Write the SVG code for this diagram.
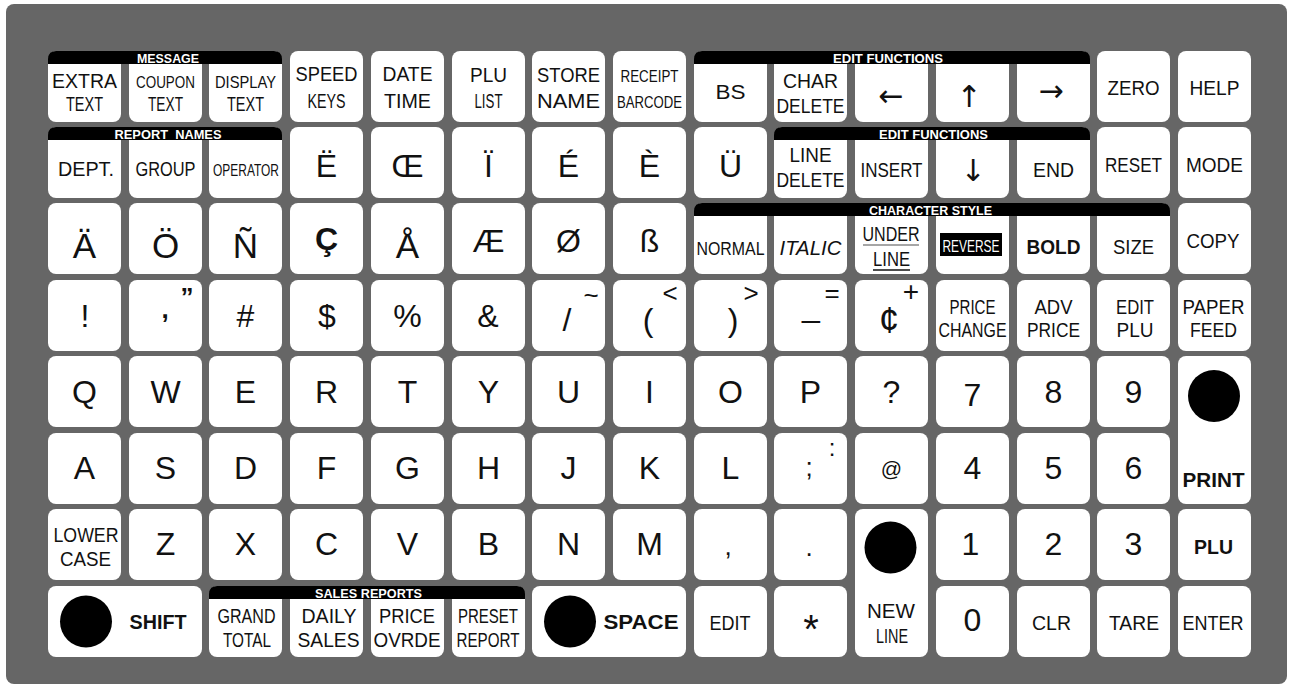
<svg xmlns="http://www.w3.org/2000/svg" width="1289" height="687" viewBox="0 0 1289 687">
<style>
.k{fill:#fff}
.l{font-family:"Liberation Sans",Arial,sans-serif;font-size:20px;fill:#111;text-anchor:middle}
.g{font-family:"Liberation Sans",Arial,sans-serif;font-size:32px;fill:#111;text-anchor:middle}
.ar{font-family:"DejaVu Sans",sans-serif;font-size:30px;fill:#111;text-anchor:middle}
.bd{font-weight:bold}
.bar{fill:#000}
.bt{font-family:"Liberation Sans",Arial,sans-serif;font-size:13px;font-weight:bold;fill:#fff;text-anchor:middle}
.dot{fill:#000}
</style>
<rect x="6" y="4" width="1281" height="680" rx="8" fill="#666"/>

<!-- Row 0 -->
<g id="k-extra-text"><rect class="k" x="48" y="51" width="73" height="71" rx="8"/><text class="l" x="84.5" y="88" textLength="65" lengthAdjust="spacingAndGlyphs">EXTRA</text><text class="l" x="84.5" y="111" textLength="37" lengthAdjust="spacingAndGlyphs">TEXT</text></g>
<g id="k-coupon-text"><rect class="k" x="129" y="51" width="73" height="71" rx="8"/><text class="l" x="165.5" y="88" textLength="59" lengthAdjust="spacingAndGlyphs" style="font-size:17px">COUPON</text><text class="l" x="165.5" y="111" textLength="35" lengthAdjust="spacingAndGlyphs">TEXT</text></g>
<g id="k-display-text"><rect class="k" x="209" y="51" width="73" height="71" rx="8"/><text class="l" x="245.5" y="88" textLength="61" lengthAdjust="spacingAndGlyphs" style="font-size:17px">DISPLAY</text><text class="l" x="245.5" y="111" textLength="37" lengthAdjust="spacingAndGlyphs">TEXT</text></g>
<g id="k-speed-keys"><rect class="k" x="290" y="51" width="73" height="71" rx="8"/><text class="l" x="326.5" y="81" textLength="62" lengthAdjust="spacingAndGlyphs">SPEED</text><text class="l" x="326.5" y="108" textLength="38" lengthAdjust="spacingAndGlyphs">KEYS</text></g>
<g id="k-date-time"><rect class="k" x="371" y="51" width="73" height="71" rx="8"/><text class="l" x="407.5" y="81" textLength="50" lengthAdjust="spacingAndGlyphs">DATE</text><text class="l" x="407.5" y="108" textLength="47" lengthAdjust="spacingAndGlyphs">TIME</text></g>
<g id="k-plu-list"><rect class="k" x="452" y="51" width="73" height="71" rx="8"/><text class="l" x="488.5" y="82" textLength="37" lengthAdjust="spacingAndGlyphs">PLU</text><text class="l" x="488.5" y="108" textLength="28" lengthAdjust="spacingAndGlyphs">LIST</text></g>
<g id="k-store-name"><rect class="k" x="532" y="51" width="73" height="71" rx="8"/><text class="l" x="568.5" y="82" textLength="63" lengthAdjust="spacingAndGlyphs">STORE</text><text class="l" x="568.5" y="108" textLength="63" lengthAdjust="spacingAndGlyphs">NAME</text></g>
<g id="k-receipt-barcode"><rect class="k" x="613" y="51" width="73" height="71" rx="8"/><text class="l" x="649.5" y="82" textLength="58" lengthAdjust="spacingAndGlyphs" style="font-size:17px">RECEIPT</text><text class="l" x="649.5" y="108" textLength="65" lengthAdjust="spacingAndGlyphs" style="font-size:17px">BARCODE</text></g>
<g id="k-bs"><rect class="k" x="694" y="51" width="73" height="71" rx="8"/><text class="l" x="730.5" y="99" textLength="30" lengthAdjust="spacingAndGlyphs">BS</text></g>
<g id="k-char-delete"><rect class="k" x="774" y="51" width="73" height="71" rx="8"/><text class="l" x="810.5" y="88" textLength="55" lengthAdjust="spacingAndGlyphs">CHAR</text><text class="l" x="810.5" y="113" textLength="68" lengthAdjust="spacingAndGlyphs">DELETE</text></g>
<g id="k-left"><rect class="k" x="855" y="51" width="73" height="71" rx="8"/><text class="ar" x="891" y="106">←</text></g>
<g id="k-up"><rect class="k" x="936" y="51" width="73" height="71" rx="8"/><text class="ar" x="969" y="107">↑</text></g>
<g id="k-right"><rect class="k" x="1017" y="51" width="73" height="71" rx="8"/><text class="ar" x="1051" y="101">→</text></g>
<g id="k-zero"><rect class="k" x="1097" y="51" width="73" height="71" rx="8"/><text class="l" x="1133.5" y="95" textLength="52" lengthAdjust="spacingAndGlyphs">ZERO</text></g>
<g id="k-help"><rect class="k" x="1178" y="51" width="73" height="71" rx="8"/><text class="l" x="1214.5" y="95" textLength="50" lengthAdjust="spacingAndGlyphs">HELP</text></g>

<!-- Row 1 -->
<g id="k-dept"><rect class="k" x="48" y="127" width="73" height="71" rx="8"/><text class="l" x="86" y="176" textLength="56" lengthAdjust="spacingAndGlyphs">DEPT.</text></g>
<g id="k-group"><rect class="k" x="129" y="127" width="73" height="71" rx="8"/><text class="l" x="165.5" y="176" textLength="60" lengthAdjust="spacingAndGlyphs">GROUP</text></g>
<g id="k-operator"><rect class="k" x="209" y="127" width="73" height="71" rx="8"/><text class="l" x="246" y="176" textLength="66" lengthAdjust="spacingAndGlyphs" style="font-size:17px">OPERATOR</text></g>
<g id="k-e-uml"><rect class="k" x="290" y="127" width="73" height="71" rx="8"/><text class="g" x="326.5" y="177">Ë</text></g>
<g id="k-oe"><rect class="k" x="371" y="127" width="73" height="71" rx="8"/><text class="g" x="407.5" y="177">Œ</text></g>
<g id="k-i-uml"><rect class="k" x="452" y="127" width="73" height="71" rx="8"/><text class="g" x="488.5" y="177">Ï</text></g>
<g id="k-e-acute"><rect class="k" x="532" y="127" width="73" height="71" rx="8"/><text class="g" x="568.5" y="177">É</text></g>
<g id="k-e-grave"><rect class="k" x="613" y="127" width="73" height="71" rx="8"/><text class="g" x="649.5" y="177">È</text></g>
<g id="k-u-uml"><rect class="k" x="694" y="127" width="73" height="71" rx="8"/><text class="g" x="730.5" y="177">Ü</text></g>
<g id="k-line-delete"><rect class="k" x="774" y="127" width="73" height="71" rx="8"/><text class="l" x="810.5" y="162" textLength="42" lengthAdjust="spacingAndGlyphs">LINE</text><text class="l" x="810.5" y="187" textLength="68" lengthAdjust="spacingAndGlyphs">DELETE</text></g>
<g id="k-insert"><rect class="k" x="855" y="127" width="73" height="71" rx="8"/><text class="l" x="891.5" y="177" textLength="62" lengthAdjust="spacingAndGlyphs">INSERT</text></g>
<g id="k-down"><rect class="k" x="936" y="127" width="73" height="71" rx="8"/><text class="ar" x="973" y="181">↓</text></g>
<g id="k-end"><rect class="k" x="1017" y="127" width="73" height="71" rx="8"/><text class="l" x="1053.5" y="177" textLength="41" lengthAdjust="spacingAndGlyphs">END</text></g>
<g id="k-reset"><rect class="k" x="1097" y="127" width="73" height="71" rx="8"/><text class="l" x="1133.5" y="172" textLength="57" lengthAdjust="spacingAndGlyphs">RESET</text></g>
<g id="k-mode"><rect class="k" x="1178" y="127" width="73" height="71" rx="8"/><text class="l" x="1214.5" y="172" textLength="57" lengthAdjust="spacingAndGlyphs">MODE</text></g>

<!-- Row 2 -->
<g id="k-a-uml"><rect class="k" x="48" y="203" width="73" height="71" rx="8"/><text class="g" x="84.5" y="258" style="font-size:35px">Ä</text></g>
<g id="k-o-uml"><rect class="k" x="129" y="203" width="73" height="71" rx="8"/><text class="g" x="165.5" y="258" style="font-size:35px">Ö</text></g>
<g id="k-n-tilde"><rect class="k" x="209" y="203" width="73" height="71" rx="8"/><text class="g" x="245.5" y="258" style="font-size:35px">Ñ</text></g>
<g id="k-c-cedil"><rect class="k" x="290" y="203" width="73" height="71" rx="8"/><text class="g bd" x="326.5" y="250">Ç</text></g>
<g id="k-a-ring"><rect class="k" x="371" y="203" width="73" height="71" rx="8"/><text class="g" x="407.5" y="258" style="font-size:35px">Å</text></g>
<g id="k-ae"><rect class="k" x="452" y="203" width="73" height="71" rx="8"/><text class="g" x="488.5" y="252">Æ</text></g>
<g id="k-o-slash"><rect class="k" x="532" y="203" width="73" height="71" rx="8"/><text class="g" x="568.5" y="252">Ø</text></g>
<g id="k-eszett"><rect class="k" x="613" y="203" width="73" height="71" rx="8"/><text class="g" x="649.5" y="252">ß</text></g>
<g id="k-normal"><rect class="k" x="694" y="203" width="73" height="71" rx="8"/><text class="l" x="730.5" y="255" textLength="68" lengthAdjust="spacingAndGlyphs" style="font-size:18px">NORMAL</text></g>
<g id="k-italic"><rect class="k" x="774" y="203" width="73" height="71" rx="8"/><text class="l" x="810.5" y="255" textLength="62" lengthAdjust="spacingAndGlyphs" font-style="italic">ITALIC</text></g>
<g id="k-underline"><rect class="k" x="855" y="203" width="73" height="71" rx="8"/><text class="l" x="891" y="241" textLength="57" lengthAdjust="spacingAndGlyphs">UNDER</text><line x1="863" y1="245" x2="919" y2="245" stroke="#888" stroke-width="1.5"/><text class="l" x="891.5" y="266" textLength="37" lengthAdjust="spacingAndGlyphs">LINE</text><line x1="873" y1="270" x2="910" y2="270" stroke="#111" stroke-width="1.5"/></g>
<g id="k-reverse"><rect class="k" x="936" y="203" width="73" height="71" rx="8"/><rect x="940" y="233" width="62" height="23" fill="#000"/><text class="l" x="971" y="252" textLength="57" lengthAdjust="spacingAndGlyphs" style="font-size:17px;fill:#fff">REVERSE</text></g>
<g id="k-bold"><rect class="k" x="1017" y="203" width="73" height="71" rx="8"/><text class="l bd" x="1053.5" y="254" textLength="54" lengthAdjust="spacingAndGlyphs">BOLD</text></g>
<g id="k-size"><rect class="k" x="1097" y="203" width="73" height="71" rx="8"/><text class="l" x="1133.5" y="254" textLength="41" lengthAdjust="spacingAndGlyphs">SIZE</text></g>
<g id="k-copy"><rect class="k" x="1178" y="203" width="73" height="71" rx="8"/><text class="l" x="1213" y="248" textLength="53" lengthAdjust="spacingAndGlyphs">COPY</text></g>

<!-- Row 3 -->
<g id="k-excl"><rect class="k" x="48" y="280" width="73" height="71" rx="8"/><text class="g" x="85" y="327">!</text></g>
<g id="k-comma-quote"><rect class="k" x="129" y="280" width="73" height="71" rx="8"/><text class="g bd" x="165" y="318" style="font-size:26px">,</text><text class="g bd" x="187" y="306" style="font-size:26px">”</text></g>
<g id="k-hash"><rect class="k" x="209" y="280" width="73" height="71" rx="8"/><text class="g" x="245.5" y="327">#</text></g>
<g id="k-dollar"><rect class="k" x="290" y="280" width="73" height="71" rx="8"/><text class="g" x="327" y="327">$</text></g>
<g id="k-percent"><rect class="k" x="371" y="280" width="73" height="71" rx="8"/><text class="g" x="407.5" y="327">%</text></g>
<g id="k-amp"><rect class="k" x="452" y="280" width="73" height="71" rx="8"/><text class="g" x="488" y="327">&amp;</text></g>
<g id="k-slash-tilde"><rect class="k" x="532" y="280" width="73" height="71" rx="8"/><text class="g" x="567" y="331">/</text><text class="g" x="591" y="304" style="font-size:26px">~</text></g>
<g id="k-paren-lt"><rect class="k" x="613" y="280" width="73" height="71" rx="8"/><text class="g" x="648" y="331">(</text><text class="g" x="670" y="302" style="font-size:26px">&lt;</text></g>
<g id="k-paren-gt"><rect class="k" x="694" y="280" width="73" height="71" rx="8"/><text class="g" x="733" y="331">)</text><text class="g" x="751" y="302" style="font-size:26px">&gt;</text></g>
<g id="k-under-eq"><rect class="k" x="774" y="280" width="73" height="71" rx="8"/><text class="g" x="811" y="317">_</text><text class="g" x="832" y="302" style="font-size:26px">=</text></g>
<g id="k-cent-plus"><rect class="k" x="855" y="280" width="73" height="71" rx="8"/><text class="g" x="889" y="333" style="font-size:36px">¢</text><text class="g" x="911" y="301" style="font-size:28px">+</text></g>
<g id="k-price-change"><rect class="k" x="936" y="280" width="73" height="71" rx="8"/><text class="l" x="972.5" y="314" textLength="46" lengthAdjust="spacingAndGlyphs">PRICE</text><text class="l" x="972.5" y="337" textLength="68" lengthAdjust="spacingAndGlyphs">CHANGE</text></g>
<g id="k-adv-price"><rect class="k" x="1017" y="280" width="73" height="71" rx="8"/><text class="l" x="1053.5" y="314" textLength="38" lengthAdjust="spacingAndGlyphs">ADV</text><text class="l" x="1053.5" y="337" textLength="53" lengthAdjust="spacingAndGlyphs">PRICE</text></g>
<g id="k-edit-plu"><rect class="k" x="1097" y="280" width="73" height="71" rx="8"/><text class="l" x="1135" y="314" textLength="38" lengthAdjust="spacingAndGlyphs">EDIT</text><text class="l" x="1135" y="337" textLength="37" lengthAdjust="spacingAndGlyphs">PLU</text></g>
<g id="k-paper-feed"><rect class="k" x="1178" y="280" width="73" height="71" rx="8"/><text class="l" x="1213.5" y="314" textLength="62" lengthAdjust="spacingAndGlyphs">PAPER</text><text class="l" x="1213.5" y="337" textLength="47" lengthAdjust="spacingAndGlyphs">FEED</text></g>

<!-- Row 4 -->
<g id="k-q"><rect class="k" x="48" y="356" width="73" height="71" rx="8"/><text class="g" x="84.5" y="403">Q</text></g>
<g id="k-w"><rect class="k" x="129" y="356" width="73" height="71" rx="8"/><text class="g" x="165.5" y="403">W</text></g>
<g id="k-e"><rect class="k" x="209" y="356" width="73" height="71" rx="8"/><text class="g" x="245.5" y="403">E</text></g>
<g id="k-r"><rect class="k" x="290" y="356" width="73" height="71" rx="8"/><text class="g" x="326.5" y="403">R</text></g>
<g id="k-t"><rect class="k" x="371" y="356" width="73" height="71" rx="8"/><text class="g" x="407.5" y="403">T</text></g>
<g id="k-y"><rect class="k" x="452" y="356" width="73" height="71" rx="8"/><text class="g" x="488.5" y="403">Y</text></g>
<g id="k-u"><rect class="k" x="532" y="356" width="73" height="71" rx="8"/><text class="g" x="568.5" y="403">U</text></g>
<g id="k-i"><rect class="k" x="613" y="356" width="73" height="71" rx="8"/><text class="g" x="649.5" y="403">I</text></g>
<g id="k-o"><rect class="k" x="694" y="356" width="73" height="71" rx="8"/><text class="g" x="730.5" y="403">O</text></g>
<g id="k-p"><rect class="k" x="774" y="356" width="73" height="71" rx="8"/><text class="g" x="810.5" y="403">P</text></g>
<g id="k-question"><rect class="k" x="855" y="356" width="73" height="71" rx="8"/><text class="g" x="891.5" y="403">?</text></g>
<g id="k-7"><rect class="k" x="936" y="356" width="73" height="71" rx="8"/><text class="g" x="972.5" y="406">7</text></g>
<g id="k-8"><rect class="k" x="1017" y="356" width="73" height="71" rx="8"/><text class="g" x="1053.5" y="403">8</text></g>
<g id="k-9"><rect class="k" x="1097" y="356" width="73" height="71" rx="8"/><text class="g" x="1133.5" y="403">9</text></g>
<g id="k-print"><rect class="k" x="1178" y="356" width="73" height="148" rx="8"/><circle class="dot" cx="1214" cy="396" r="26"/><text class="l bd" x="1213.5" y="487" textLength="62" lengthAdjust="spacingAndGlyphs">PRINT</text></g>

<!-- Row 5 -->
<g id="k-a"><rect class="k" x="48" y="433" width="73" height="71" rx="8"/><text class="g" x="84.5" y="479">A</text></g>
<g id="k-s"><rect class="k" x="129" y="433" width="73" height="71" rx="8"/><text class="g" x="165.5" y="479">S</text></g>
<g id="k-d"><rect class="k" x="209" y="433" width="73" height="71" rx="8"/><text class="g" x="245.5" y="479">D</text></g>
<g id="k-f"><rect class="k" x="290" y="433" width="73" height="71" rx="8"/><text class="g" x="326.5" y="479">F</text></g>
<g id="k-g"><rect class="k" x="371" y="433" width="73" height="71" rx="8"/><text class="g" x="407.5" y="479">G</text></g>
<g id="k-h"><rect class="k" x="452" y="433" width="73" height="71" rx="8"/><text class="g" x="488.5" y="479">H</text></g>
<g id="k-j"><rect class="k" x="532" y="433" width="73" height="71" rx="8"/><text class="g" x="568.5" y="479">J</text></g>
<g id="k-k"><rect class="k" x="613" y="433" width="73" height="71" rx="8"/><text class="g" x="649.5" y="479">K</text></g>
<g id="k-l"><rect class="k" x="694" y="433" width="73" height="71" rx="8"/><text class="g" x="730.5" y="479">L</text></g>
<g id="k-semi-colon"><rect class="k" x="774" y="433" width="73" height="71" rx="8"/><text class="g" x="809" y="476" style="font-size:26px">;</text><text class="g" x="832" y="456" style="font-size:24px">:</text></g>
<g id="k-at"><rect class="k" x="855" y="433" width="73" height="71" rx="8"/><text class="g" x="891.5" y="476" style="font-size:21px">@</text></g>
<g id="k-4"><rect class="k" x="936" y="433" width="73" height="71" rx="8"/><text class="g" x="972.5" y="479">4</text></g>
<g id="k-5"><rect class="k" x="1017" y="433" width="73" height="71" rx="8"/><text class="g" x="1053.5" y="479">5</text></g>
<g id="k-6"><rect class="k" x="1097" y="433" width="73" height="71" rx="8"/><text class="g" x="1133.5" y="479">6</text></g>

<!-- Row 6 -->
<g id="k-lower-case"><rect class="k" x="48" y="509" width="73" height="71" rx="8"/><text class="l" x="86" y="542" textLength="65" lengthAdjust="spacingAndGlyphs">LOWER</text><text class="l" x="85.5" y="566" textLength="51" lengthAdjust="spacingAndGlyphs">CASE</text></g>
<g id="k-z"><rect class="k" x="129" y="509" width="73" height="71" rx="8"/><text class="g" x="165.5" y="555">Z</text></g>
<g id="k-x"><rect class="k" x="209" y="509" width="73" height="71" rx="8"/><text class="g" x="245.5" y="555">X</text></g>
<g id="k-c"><rect class="k" x="290" y="509" width="73" height="71" rx="8"/><text class="g" x="326.5" y="555">C</text></g>
<g id="k-v"><rect class="k" x="371" y="509" width="73" height="71" rx="8"/><text class="g" x="407.5" y="555">V</text></g>
<g id="k-b"><rect class="k" x="452" y="509" width="73" height="71" rx="8"/><text class="g" x="488.5" y="555">B</text></g>
<g id="k-n"><rect class="k" x="532" y="509" width="73" height="71" rx="8"/><text class="g" x="568.5" y="555">N</text></g>
<g id="k-m"><rect class="k" x="613" y="509" width="73" height="71" rx="8"/><text class="g" x="649.5" y="555">M</text></g>
<g id="k-comma"><rect class="k" x="694" y="509" width="73" height="71" rx="8"/><text class="g" x="728" y="555" style="font-size:26px">,</text></g>
<g id="k-period"><rect class="k" x="774" y="509" width="73" height="71" rx="8"/><text class="g" x="809" y="556" style="font-size:26px">.</text></g>
<g id="k-new-line"><rect class="k" x="855" y="509" width="73" height="148" rx="8"/><circle class="dot" cx="890.5" cy="547.5" r="26"/><text class="l" x="891" y="618" textLength="48" lengthAdjust="spacingAndGlyphs">NEW</text><text class="l" x="892" y="643" textLength="32" lengthAdjust="spacingAndGlyphs">LINE</text></g>
<g id="k-1"><rect class="k" x="936" y="509" width="73" height="71" rx="8"/><text class="g" x="970.5" y="555">1</text></g>
<g id="k-2"><rect class="k" x="1017" y="509" width="73" height="71" rx="8"/><text class="g" x="1053.5" y="555">2</text></g>
<g id="k-3"><rect class="k" x="1097" y="509" width="73" height="71" rx="8"/><text class="g" x="1133.5" y="555">3</text></g>
<g id="k-plu"><rect class="k" x="1178" y="509" width="73" height="71" rx="8"/><text class="l bd" x="1213.5" y="554" textLength="39" lengthAdjust="spacingAndGlyphs">PLU</text></g>

<!-- Row 7 -->
<g id="k-shift"><rect class="k" x="48" y="586" width="154" height="71" rx="8"/><circle class="dot" cx="86" cy="621.5" r="26"/><text class="l bd" x="158" y="629" textLength="57" lengthAdjust="spacingAndGlyphs">SHIFT</text></g>
<g id="k-grand-total"><rect class="k" x="209" y="586" width="73" height="71" rx="8"/><text class="l" x="246.5" y="623" textLength="58" lengthAdjust="spacingAndGlyphs">GRAND</text><text class="l" x="247" y="647" textLength="48" lengthAdjust="spacingAndGlyphs">TOTAL</text></g>
<g id="k-daily-sales"><rect class="k" x="290" y="586" width="73" height="71" rx="8"/><text class="l" x="329" y="623" textLength="55" lengthAdjust="spacingAndGlyphs">DAILY</text><text class="l" x="328.5" y="647" textLength="62" lengthAdjust="spacingAndGlyphs">SALES</text></g>
<g id="k-price-ovrde"><rect class="k" x="371" y="586" width="73" height="71" rx="8"/><text class="l" x="407" y="623" textLength="56" lengthAdjust="spacingAndGlyphs">PRICE</text><text class="l" x="407" y="647" textLength="67" lengthAdjust="spacingAndGlyphs">OVRDE</text></g>
<g id="k-preset-report"><rect class="k" x="452" y="586" width="73" height="71" rx="8"/><text class="l" x="488" y="623" textLength="60" lengthAdjust="spacingAndGlyphs">PRESET</text><text class="l" x="488" y="647" textLength="63" lengthAdjust="spacingAndGlyphs">REPORT</text></g>
<g id="k-space"><rect class="k" x="532" y="586" width="154" height="71" rx="8"/><circle class="dot" cx="570" cy="621.5" r="26"/><text class="l bd" x="641" y="629" textLength="75" lengthAdjust="spacingAndGlyphs">SPACE</text></g>
<g id="k-edit"><rect class="k" x="694" y="586" width="73" height="71" rx="8"/><text class="l" x="730" y="630" textLength="41" lengthAdjust="spacingAndGlyphs">EDIT</text></g>
<g id="k-star"><rect class="k" x="774" y="586" width="73" height="71" rx="8"/><text class="g" x="811" y="643" style="font-size:40px">*</text></g>
<g id="k-0"><rect class="k" x="936" y="586" width="73" height="71" rx="8"/><text class="g" x="972.5" y="631">0</text></g>
<g id="k-clr"><rect class="k" x="1017" y="586" width="73" height="71" rx="8"/><text class="l" x="1051.5" y="630" textLength="39" lengthAdjust="spacingAndGlyphs">CLR</text></g>
<g id="k-tare"><rect class="k" x="1097" y="586" width="73" height="71" rx="8"/><text class="l" x="1134" y="630" textLength="50" lengthAdjust="spacingAndGlyphs">TARE</text></g>
<g id="k-enter"><rect class="k" x="1178" y="586" width="73" height="71" rx="8"/><text class="l" x="1213" y="630" textLength="61" lengthAdjust="spacingAndGlyphs">ENTER</text></g>

<!-- Label bars -->
<g id="bar-message"><path class="bar" d="M48,64 V59 Q48,51 56,51 H274 Q282,51 282,59 V64 Z"/><text class="bt" x="168" y="63" textLength="62" lengthAdjust="spacingAndGlyphs">MESSAGE</text></g>
<g id="bar-report-names"><path class="bar" d="M48,140 V135 Q48,127 56,127 H274 Q282,127 282,135 V140 Z"/><text class="bt" x="168" y="139" textLength="107" lengthAdjust="spacingAndGlyphs" xml:space="preserve">REPORT  NAMES</text></g>
<g id="bar-edit-functions-1"><path class="bar" d="M694,64 V59 Q694,51 702,51 H1082 Q1090,51 1090,59 V64 Z"/><text class="bt" x="888" y="63" textLength="110" lengthAdjust="spacingAndGlyphs">EDIT FUNCTIONS</text></g>
<g id="bar-edit-functions-2"><path class="bar" d="M774,140 V135 Q774,127 782,127 H1082 Q1090,127 1090,135 V140 Z"/><text class="bt" x="933.5" y="139" textLength="109" lengthAdjust="spacingAndGlyphs">EDIT FUNCTIONS</text></g>
<g id="bar-character-style"><path class="bar" d="M694,216 V211 Q694,203 702,203 H1162 Q1170,203 1170,211 V216 Z"/><text class="bt" x="930.5" y="215" textLength="123" lengthAdjust="spacingAndGlyphs">CHARACTER STYLE</text></g>
<g id="bar-sales-reports"><path class="bar" d="M209,599 V594 Q209,586 217,586 H517 Q525,586 525,594 V599 Z"/><text class="bt" x="368.5" y="598" textLength="107" lengthAdjust="spacingAndGlyphs">SALES REPORTS</text></g>
</svg>
